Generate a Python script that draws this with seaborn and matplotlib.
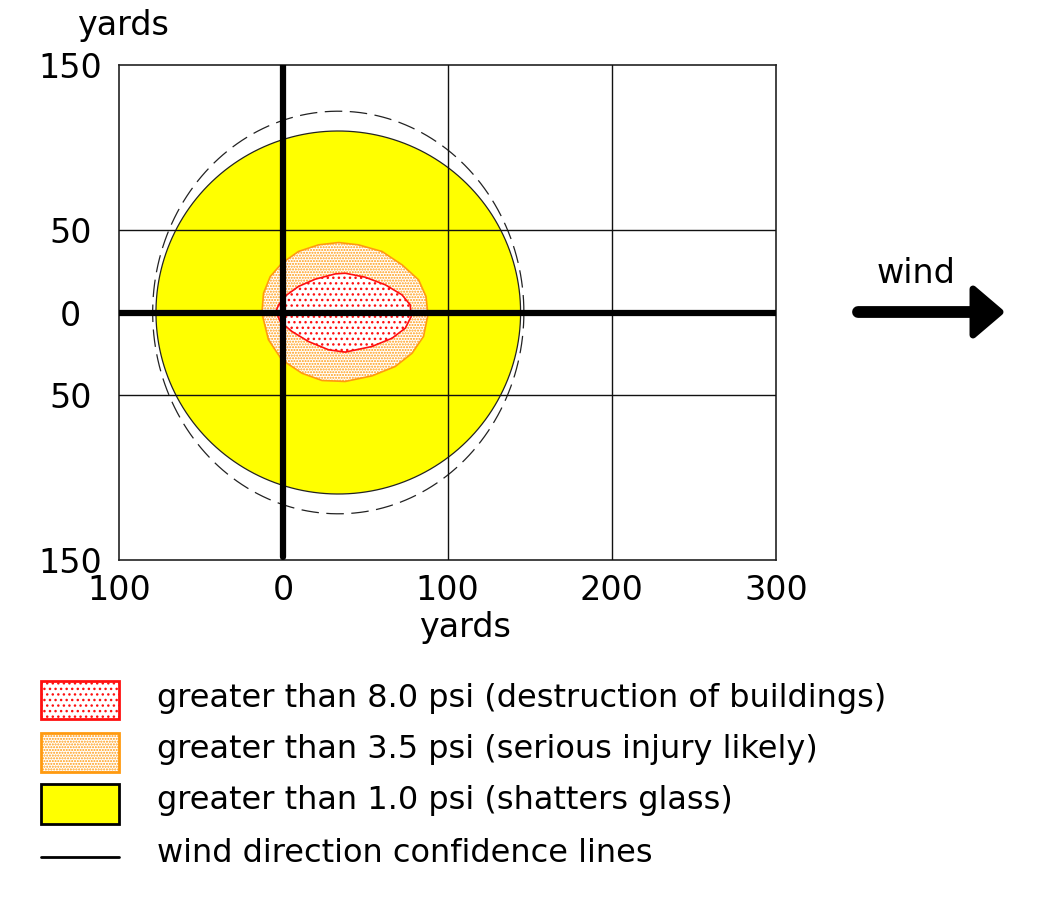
"""
Blast overpressure footprint with wind direction.
Output: out.png
"""
import numpy as np
import matplotlib
matplotlib.use("Agg")
import matplotlib.pyplot as plt
from matplotlib.patches import Rectangle
import seaborn as sns

# 8.0 psi zone outline (yards)
red_x = [-4.5, -2.8, 2.2, 9.3, 19.5, 31.7, 37.7, 49.9, 62.1, 72.3, 77.3, 77.9,
         74.3, 66.2, 54.0, 37.7, 27.6, 15.4, 5.3, -1.8]
red_y = [0.6, 4.6, 10.7, 15.8, 20.2, 23.4, 23.8, 21.4, 16.8, 10.7, 4.6, -2.4,
         -9.5, -15.6, -20.6, -24.0, -22.6, -17.6, -11.5, -5.5]

# 3.5 psi zone outline (yards)
orange_x = [-13.0, -12.0, -7.9, -0.8, 9.3, 21.5, 33.7, 45.8, 60.1, 72.3, 82.4,
            86.9, 88.1, 85.4, 78.4, 68.2, 54.0, 37.7, 23.6, 11.4, -0.8, -9.0]
orange_y = [-0.4, 11.7, 21.8, 29.9, 37.0, 41.0, 42.4, 41.0, 37.0, 28.9, 19.8,
            9.7, -1.4, -14.5, -24.7, -32.7, -38.4, -41.8, -41.2, -36.8, -28.7, -16.5]

# 1.0 psi zone: circle
glass_center = (33.5, 0.0)
glass_radius = (111.0, 110.0)

# wind direction confidence ellipse
conf_center = (33.5, 0.0)
conf_radius = (113.0, 122.0)

x_ticks = [-100, 0, 100, 200, 300]
x_labels = ["100", "0", "100", "200", "300"]
y_ticks = [150, 50, 0, -50, -150]
y_labels = ["150", "50", "0", "50", "150"]
grid_x = [100, 200]
grid_y = [50, -50]

legend_labels = [
    "greater than 8.0 psi (destruction of buildings)",
    "greater than 3.5 psi (serious injury likely)",
    "greater than 1.0 psi (shatters glass)",
    "wind direction confidence lines",
]


def ellipse(center, radius, n=200):
    t = np.linspace(0, 2 * np.pi, n)
    return center[0] + radius[0] * np.cos(t), center[1] + radius[1] * np.sin(t)


def main():
    sns.set_style("white")
    plt.rcParams["font.family"] = ["DejaVu Sans"]
    plt.rcParams["text.color"] = "black"
    plt.rcParams["xtick.color"] = "black"
    plt.rcParams["ytick.color"] = "black"
    plt.rcParams["hatch.linewidth"] = 1.0

    W, H = 1051, 901
    fig = plt.figure(figsize=(W / 100, H / 100), dpi=100)
    ax = fig.add_axes([119 / W, 1 - 560 / H, 657 / W, 495 / H])

    gx, gy = ellipse(glass_center, glass_radius)
    ax.fill(gx, gy, facecolor="#ffff00", edgecolor="#222222", lw=0.9, zorder=1)

    ax.fill(orange_x, orange_y, facecolor="white", edgecolor="#ff9a10",
            hatch="......", lw=1.2, zorder=2)
    ax.fill(red_x, red_y, facecolor="white", edgecolor="#ff1010",
            hatch="...", lw=1.2, zorder=3)

    cx, cy = ellipse(conf_center, conf_radius)
    sns.lineplot(x=cx, y=cy, sort=False, estimator=None, ax=ax, color="#222222",
                 lw=0.9, linestyle=(0, (14, 6)), zorder=4)

    for v in grid_x:
        ax.axvline(v, color="#111111", lw=1.0, zorder=5)
    for v in grid_y:
        ax.axhline(v, color="#111111", lw=1.0, zorder=5)
    ax.plot([0, 0], [-148, 150], color="black", lw=4.5, zorder=6)
    ax.axhline(0, color="black", lw=4.5, zorder=6)

    ax.set_xlim(-100, 300)
    ax.set_ylim(-150, 150)
    ax.set_xticks(x_ticks)
    ax.set_xticklabels(x_labels, fontsize=24)
    ax.set_yticks(y_ticks)
    ax.set_yticklabels(y_labels, fontsize=24)
    for lab in ax.get_yticklabels():
        lab.set_ha("center")
    ax.tick_params(axis="x", length=0, pad=10)
    ax.tick_params(axis="y", length=0, pad=35)
    for s in ax.spines.values():
        s.set_color("#222222")
        s.set_linewidth(1.2)

    # overlay in pixel coordinates for labels, arrow, legend
    ov = fig.add_axes([0, 0, 1, 1], zorder=-1)
    ov.set_xlim(0, W)
    ov.set_ylim(H, 0)
    ov.axis("off")

    ov.text(123, 35, "yards", fontsize=24, ha="center", va="baseline")
    ov.text(465, 637, "yards", fontsize=24, ha="center", va="baseline")

    ov.text(916, 283, "wind", fontsize=24, ha="center", va="baseline")
    ov.plot([858, 978], [312, 312], color="black", lw=8.5, solid_capstyle="round")
    ov.fill([973, 1000, 973], [289, 312, 335], color="black", lw=5,
            joinstyle="round")

    ov.add_patch(Rectangle((41, 681), 78, 38, facecolor="white", edgecolor="#ff1010",
                           hatch="...", lw=2))
    ov.add_patch(Rectangle((41, 733), 78, 39, facecolor="white", edgecolor="#ff9a10",
                           hatch="......", lw=2))
    ov.add_patch(Rectangle((41, 784), 78, 40, facecolor="#ffff00", edgecolor="black",
                           lw=2))
    ov.plot([41, 119], [857, 857], color="black", lw=2)

    for lab, base in zip(legend_labels, [707, 758, 809, 862]):
        ov.text(157, base, lab, fontsize=23, ha="left", va="baseline")

    fig.savefig("out.png", dpi=100)
    plt.close(fig)


if __name__ == "__main__":
    main()
